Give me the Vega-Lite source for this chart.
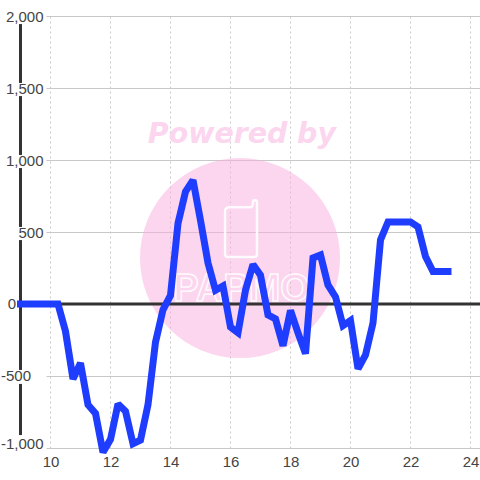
{"$schema":"https://vega.github.io/schema/vega-lite/v6.json","width":434,"height":432,"autosize":"none","padding":{"left":46,"top":16,"right":0,"bottom":32},"background":"white","config":{"view":{"stroke":null},"font":"Liberation Sans"},"datasets":{"line":[{"x":9,"v":0},{"x":10,"v":0},{"x":10.25,"v":0},{"x":10.5,"v":-190},{"x":10.75,"v":-520},{"x":11,"v":-410},{"x":11.25,"v":-700},{"x":11.5,"v":-760},{"x":11.75,"v":-1030},{"x":12,"v":-940},{"x":12.25,"v":-695},{"x":12.5,"v":-745},{"x":12.75,"v":-970},{"x":13,"v":-945},{"x":13.25,"v":-700},{"x":13.5,"v":-265},{"x":13.75,"v":-40},{"x":14,"v":60},{"x":14.25,"v":560},{"x":14.5,"v":780},{"x":14.75,"v":860},{"x":15,"v":580},{"x":15.25,"v":285},{"x":15.5,"v":95},{"x":15.75,"v":125},{"x":16,"v":-160},{"x":16.25,"v":-200},{"x":16.5,"v":97},{"x":16.75,"v":275},{"x":17,"v":200},{"x":17.25,"v":-76},{"x":17.5,"v":-104},{"x":17.75,"v":-290},{"x":18,"v":-45},{"x":18.25,"v":-200},{"x":18.5,"v":-345},{"x":18.75,"v":320},{"x":19,"v":340},{"x":19.25,"v":132},{"x":19.5,"v":50},{"x":19.75,"v":-150},{"x":20,"v":-115},{"x":20.25,"v":-450},{"x":20.5,"v":-354},{"x":20.75,"v":-132},{"x":21,"v":445},{"x":21.25,"v":570},{"x":21.5,"v":570},{"x":21.75,"v":570},{"x":22,"v":570},{"x":22.25,"v":535},{"x":22.5,"v":330},{"x":22.75,"v":225},{"x":23,"v":225},{"x":23.25,"v":225}],"axisSegs":[{"x":9,"a":1944,"b":1535},{"x":9,"a":1444,"b":1035},{"x":9,"a":944,"b":535},{"x":9,"a":444,"b":-458},{"x":9,"a":-555,"b":-910}],"zero":[{"a":9,"b":24.32,"v":0}],"mark":[{"x":16.317,"v":319}],"title":[{"x":16.38,"v":1180,"t":"Powered by"}],"word":[{"x":16.37,"v":95,"t":"PAPMO"}],"phone":[{"x":16.35,"v":524}],"lowLabels":[{"x":8.85,"v":0,"t":"0"},{"x":9.35,"v":-500,"t":"-500"}]},"layer":[{"data":{"name":"mark"},"mark":{"type":"point","shape":"circle","filled":true,"fill":"#f9abdd","opacity":0.5,"size":40000},"encoding":{"x":{"field":"x","type":"quantitative","scale":{"domain":[9.85,24.3167],"nice":false,"zero":false},"axis":{"values":[10,11,12,13,14,15,16,17,18,19,20,21,22,23,24],"grid":true,"gridColor":"#c8c8c8","gridDash":[2,3],"gridWidth":1,"domain":false,"ticks":false,"labelFontSize":15,"labelColor":"#444444","labelPadding":6,"labelOverlap":false,"title":null}},"y":{"field":"v","type":"quantitative","scale":{"domain":[-1000,2000],"nice":false,"zero":false},"axis":{"values":[-1000,-750,-500,-250,0,250,500,750,1000,1250,1500,1750,2000],"grid":true,"gridColor":"#c8c8c8","gridWidth":1,"domain":false,"ticks":false,"labelFontSize":15,"labelColor":"#444444","labelPadding":3,"labelOverlap":false,"labelBaseline":{"condition":{"test":"datum.value === -1000","value":"alphabetic"},"value":"middle"},"labelExpr":"datum.value === 0 || datum.value === -500 ? '' : (datum.value % 500 === 0 ? replace(datum.label,'\u2212','-') : '')","title":null}}}},{"data":{"name":"phone"},"mark":{"type":"point","filled":false,"stroke":"#ffffff","strokeWidth":2.5,"opacity":0.9,"size":3249,"shape":"M -0.56 -0.6 Q -0.56 -0.75 -0.4 -0.75 L 0.35 -0.75 Q 0.42 -0.78 0.42 -0.9 Q 0.42 -1 0.49 -1 Q 0.56 -1 0.56 -0.9 L 0.56 0.9 Q 0.56 1 0.46 1 L -0.46 1 Q -0.56 1 -0.56 0.9 Z"},"encoding":{"x":{"field":"x","type":"quantitative"},"y":{"field":"v","type":"quantitative"}}},{"data":{"name":"word"},"mark":{"type":"text","font":"Liberation Sans","fontWeight":"bold","fontSize":38,"fill":"#fcd5ee","stroke":"#ffffff","strokeWidth":1.5,"opacity":0.9,"baseline":"middle"},"encoding":{"x":{"field":"x","type":"quantitative"},"y":{"field":"v","type":"quantitative"},"text":{"field":"t"}}},{"data":{"name":"title"},"mark":{"type":"text","font":"DejaVu Sans","fontSize":28.4,"fontWeight":"bold","fontStyle":"italic","fill":"#fcd5ee","baseline":"middle"},"encoding":{"x":{"field":"x","type":"quantitative"},"y":{"field":"v","type":"quantitative"},"text":{"field":"t"}}},{"data":{"name":"zero"},"mark":{"type":"rule","color":"#333333","strokeWidth":3},"encoding":{"x":{"field":"a","type":"quantitative"},"x2":{"field":"b"},"y":{"field":"v","type":"quantitative"}}},{"data":{"name":"axisSegs"},"mark":{"type":"rule","color":"#333333","strokeWidth":3},"encoding":{"x":{"field":"x","type":"quantitative"},"y":{"field":"a","type":"quantitative"},"y2":{"field":"b"}}},{"data":{"name":"lowLabels"},"mark":{"type":"text","fontSize":15,"color":"#444444","align":"right","baseline":"middle"},"encoding":{"x":{"field":"x","type":"quantitative"},"y":{"field":"v","type":"quantitative"},"text":{"field":"t"}}},{"data":{"name":"line"},"mark":{"type":"line","color":"#1f3dff","strokeWidth":7,"strokeCap":"square","strokeJoin":"miter","strokeMiterLimit":2,"clip":false},"encoding":{"x":{"field":"x","type":"quantitative"},"y":{"field":"v","type":"quantitative"}}}]}
